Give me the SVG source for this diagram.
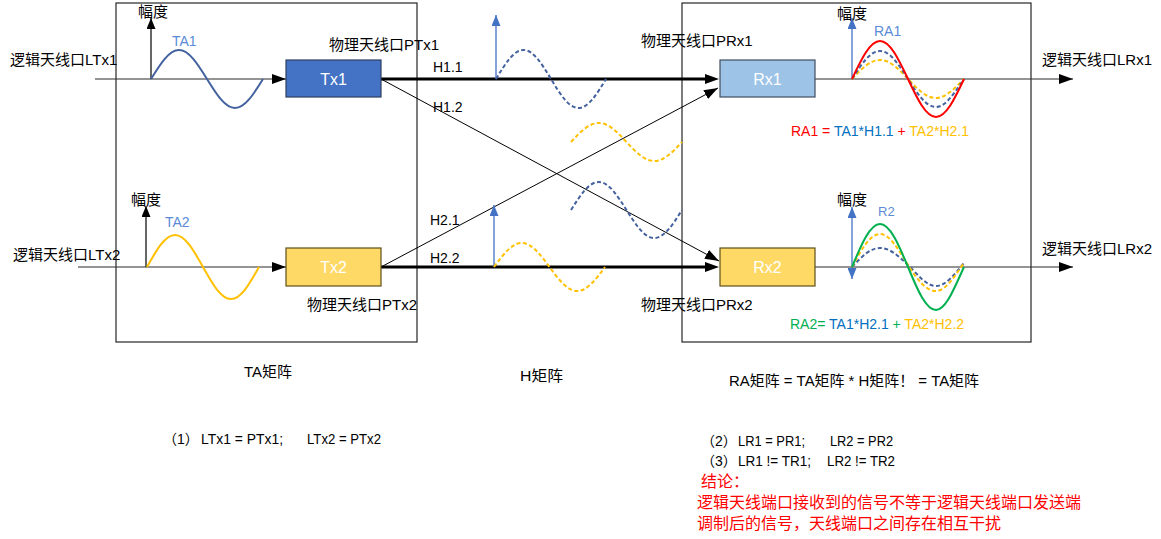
<svg xmlns="http://www.w3.org/2000/svg" width="1161" height="539" viewBox="0 0 1161 539">
<style>
text{font-family:"Liberation Sans","Noto Sans CJK SC",sans-serif;fill:#000}
.lbl{font-size:15px}
.h{font-size:14px}
.box{font-size:16px;fill:#fff;text-anchor:middle}
.sig{font-size:14px;fill:#5B8BD6}
.frame{fill:none;stroke:#262626;stroke-width:1.2}
.row{stroke:#2A2A2A;stroke-width:1.2;fill:none}
.thick{stroke:#000;stroke-width:3.2;fill:none}
.diag{stroke:#000;stroke-width:1;fill:none}
.ax{stroke:#000;stroke-width:1.2}
.axb{stroke:#4472C4;stroke-width:1.3}
.w{fill:none;stroke-width:2}
.d{fill:none;stroke-width:2;stroke-dasharray:4 2.5}
.blue{stroke:#44629F}
.yel{stroke:#FFC000}
.bot{font-size:15px}
.red{fill:#FF0000;font-size:16px}
</style>
<defs>
<marker id="ah" viewBox="0 0 14 10" refX="14" refY="5" markerWidth="14" markerHeight="10" markerUnits="userSpaceOnUse" orient="auto"><path d="M0,0 L14,5 L0,10 z" fill="#000"/></marker>
<marker id="ahT" viewBox="0 0 14 10" refX="2" refY="5" markerWidth="14" markerHeight="10" markerUnits="userSpaceOnUse" orient="auto"><path d="M0,0 L14,5 L0,10 z" fill="#000"/></marker>
<marker id="axk" viewBox="0 0 11 9" refX="11" refY="4.5" markerWidth="11" markerHeight="9" markerUnits="userSpaceOnUse" orient="auto-start-reverse"><path d="M0,0 L11,4.5 L0,9 z" fill="#000"/></marker>
<marker id="axb" viewBox="0 0 11 9" refX="11" refY="4.5" markerWidth="11" markerHeight="9" markerUnits="userSpaceOnUse" orient="auto-start-reverse"><path d="M0,0 L11,4.5 L0,9 z" fill="#4472C4"/></marker>
</defs>

<g id="frames">
<rect class="frame" x="116" y="3" width="301" height="339"/>
<rect class="frame" x="682" y="3" width="349" height="339"/>
</g>

<g id="connectors">
<line class="row" x1="95" y1="79" x2="286" y2="79" marker-end="url(#ah)"/>
<line class="row" x1="78" y1="267" x2="286" y2="267" marker-end="url(#ah)"/>
<line class="thick" x1="381" y1="79" x2="707" y2="79" marker-end="url(#ahT)"/>
<line class="thick" x1="381" y1="267" x2="707" y2="267" marker-end="url(#ahT)"/>
<line class="diag" x1="381" y1="79" x2="719" y2="261" marker-end="url(#ah)"/>
<line class="diag" x1="381" y1="267" x2="718" y2="88" marker-end="url(#ah)"/>
<line class="row" x1="815" y1="79" x2="1073" y2="79" marker-end="url(#ah)"/>
<line class="row" x1="815" y1="267" x2="1073" y2="267" marker-end="url(#ah)"/>
<text class="h" x="433" y="72">H1.1</text>
<text class="h" x="433" y="112">H1.2</text>
<text class="h" x="430" y="225">H2.1</text>
<text class="h" x="430" y="263">H2.2</text>
</g>

<g id="TA1-signal">
<line class="ax" x1="151" y1="79" x2="151" y2="18" marker-end="url(#axk)"/>
<text class="lbl" x="138" y="17">幅度</text>
<text class="sig" x="172" y="46">TA1</text>
<path class="w blue" d="M151,79 C160.4,63.8 169,50 179,50 S197.6,63.8 207,79 S225,108 235,108 S253.6,94.2 263,79"/>
</g>

<g id="TA2-signal">
<line class="ax" x1="146" y1="267" x2="146" y2="206" marker-end="url(#axk)"/>
<text class="lbl" x="131" y="205">幅度</text>
<text class="sig" x="165" y="227">TA2</text>
<path class="w yel" d="M147,267 C156.4,250.2 165,235 175,235 S193.6,250.2 203,267 S221,299 231,299 S249.6,283.8 259,267"/>
</g>

<g id="LTx1"><text class="lbl" x="10" y="65">逻辑天线口LTx1</text></g>
<g id="LTx2"><text class="lbl" x="13" y="260">逻辑天线口LTx2</text></g>

<g id="Tx1">
<rect x="286" y="60" width="95" height="37" fill="#4472C4" stroke="#2F3F5F" stroke-width="1.2"/>
<text class="box" x="333.5" y="85">Tx1</text>
<text class="lbl" x="329" y="50">物理天线口PTx1</text>
</g>

<g id="Tx2">
<rect x="286" y="248" width="95" height="38" fill="#FFD966" stroke="#5E4F1A" stroke-width="1.2"/>
<text class="box" x="333.5" y="273">Tx2</text>
<text class="lbl" x="307" y="310">物理天线口PTx2</text>
</g>

<g id="H-signals">
<line class="axb" x1="496" y1="79" x2="496" y2="15" marker-end="url(#axb)"/>
<path class="d blue" d="M496,79 C505.2,63.8 513.6,50 523.5,50 S541.8,63.8 551,79 S568.6,108 578.5,108 S596.8,94.2 606,79"/>
<path class="d yel" d="M571,142 C580.3,132 588.8,123 598.75,123 S617.2,132 626.5,142 S644.3,161 654.25,161 S672.7,152 682,142"/>
<path class="d blue" d="M571,210 C580.3,195.3 588.8,182 598.75,182 S617.2,195.3 626.5,210 S644.3,238 654.25,238 S672.7,224.7 682,210"/>
<line class="axb" x1="494" y1="267" x2="494" y2="205" marker-end="url(#axb)"/>
<path class="d yel" d="M494,267 C503.3,254.4 511.8,243 521.75,243 S540.2,254.4 549.5,267 S567.3,291 577.25,291 S595.7,279.6 605,267"/>
</g>

<g id="Rx1">
<rect x="720" y="60" width="95" height="37" fill="#9DC3E6" stroke="#3F4F60" stroke-width="1.2"/>
<text class="box" x="767.5" y="85">Rx1</text>
<text class="lbl" x="641" y="46">物理天线口PRx1</text>
</g>

<g id="Rx2">
<rect x="720" y="248" width="95" height="38" fill="#FFD966" stroke="#5E4F1A" stroke-width="1.2"/>
<text class="box" x="767.5" y="273">Rx2</text>
<text class="lbl" x="641" y="310">物理天线口PRx2</text>
</g>

<g id="RA1-signal">
<line class="axb" x1="852" y1="79" x2="852" y2="18" marker-end="url(#axb)"/>
<text class="lbl" x="837" y="19">幅度</text>
<text class="sig" x="874" y="36">RA1</text>
<path class="d yel" d="M852,79 C861.4,69 870,60 880,60 S898.6,69 908,79 S926,98 936,98 S954.6,88 964,79"/>
<path class="d blue" d="M852,79 C861.4,64.3 870,51 880,51 S898.6,64.3 908,79 S926,107 936,107 S954.6,92.3 964,79"/>
<path class="w" stroke="#FF0000" d="M852,79 C861.4,59 870,41 880,41 S898.6,59 908,79 S926,117 936,117 S954.6,99 964,79"/>
<text class="h" x="791" y="136"><tspan fill="#FF0000">RA1 = </tspan><tspan fill="#0070C0">TA1*H1.1</tspan><tspan fill="#FF0000"> + </tspan><tspan fill="#FFC000">TA2*H2.1</tspan></text>
</g>

<g id="RA2-signal">
<line class="axb" x1="852" y1="207" x2="852" y2="279" marker-start="url(#axb)" marker-end="url(#axb)"/>
<text class="lbl" x="837" y="205">幅度</text>
<text class="sig" x="878" y="216" style="font-size:13px">R2</text>
<path class="d blue" d="M852,267 C861.4,257 870,248 880,248 S898.6,256 908,265 S926,286 936,286 S954.6,274 964,263"/>
<path class="d yel" d="M852,267 C861.4,249.7 870,234 880,234 S898.6,250 908,265 S926,291 936,291 S954.6,276 964,263"/>
<path class="w" stroke="#00B050" d="M852,267 C861.4,244.4 870,224 880,224 S898.6,244.4 908,267 S926,310 936,310 S954.6,287.4 964,267"/>
<text class="h" x="790" y="329"><tspan fill="#00B050">RA2= </tspan><tspan fill="#0070C0">TA1*H2.1</tspan><tspan fill="#00B050"> + </tspan><tspan fill="#FFC000">TA2*H2.2</tspan></text>
</g>

<g id="LRx1"><text class="lbl" x="1042" y="65">逻辑天线口LRx1</text></g>
<g id="LRx2"><text class="lbl" x="1042" y="254">逻辑天线口LRx2</text></g>

<g id="notes">
<text class="bot" x="244" y="377" textLength="48" lengthAdjust="spacingAndGlyphs">TA矩阵</text>
<text class="bot" x="520" y="381" textLength="43" lengthAdjust="spacingAndGlyphs">H矩阵</text>
<text class="bot" x="729" y="386" textLength="250" lengthAdjust="spacingAndGlyphs">RA矩阵 = TA矩阵 * H矩阵！ = TA矩阵</text>
<text class="h" x="163" y="444">（1）</text>
<text class="h" x="201" y="444" textLength="82" lengthAdjust="spacingAndGlyphs">LTx1 = PTx1;</text>
<text class="h" x="307" y="444" textLength="74" lengthAdjust="spacingAndGlyphs">LTx2 = PTx2</text>
<text class="h" x="701" y="446">（2）</text>
<text class="h" x="738" y="446" textLength="67" lengthAdjust="spacingAndGlyphs">LR1 = PR1;</text>
<text class="h" x="830" y="446" textLength="63" lengthAdjust="spacingAndGlyphs">LR2 = PR2</text>
<text class="h" x="701" y="466">（3）</text>
<text class="h" x="738" y="466" textLength="73" lengthAdjust="spacingAndGlyphs">LR1 != TR1;</text>
<text class="h" x="827" y="466" textLength="68" lengthAdjust="spacingAndGlyphs">LR2 != TR2</text>
<text class="red" x="701" y="487">结论：</text>
<text class="red" x="697" y="508">逻辑天线端口接收到的信号不等于逻辑天线端口发送端</text>
<text class="red" x="697" y="529">调制后的信号，天线端口之间存在相互干扰</text>
</g>
</svg>
